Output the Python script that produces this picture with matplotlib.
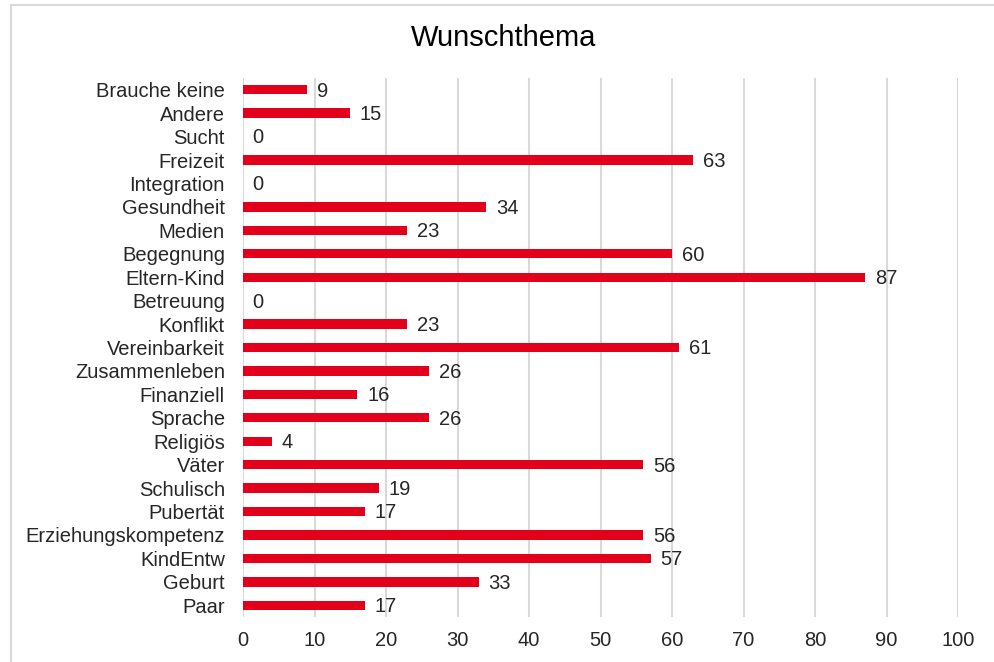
import numpy as np
import matplotlib.pyplot as plt
from matplotlib.lines import Line2D

plt.rcParams['font.family'] = ['Liberation Sans', 'DejaVu Sans']

categories = ['Brauche keine', 'Andere', 'Sucht', 'Freizeit', 'Integration',
              'Gesundheit', 'Medien', 'Begegnung', 'Eltern-Kind', 'Betreuung',
              'Konflikt', 'Vereinbarkeit', 'Zusammenleben', 'Finanziell',
              'Sprache', 'Religiös', 'Väter', 'Schulisch', 'Pubertät',
              'Erziehungskompetenz', 'KindEntw', 'Geburt', 'Paar']
values = [9, 15, 0, 63, 0, 34, 23, 60, 87, 0, 23, 61, 26, 16, 26, 4, 56, 19, 17,
          56, 57, 33, 17]
xticks = np.arange(0, 101, 10)

bar_color = '#E2001A'
grid_color = '#D9D9D9'

fig = plt.figure(figsize=(9.94, 6.62), dpi=100)
ax = fig.add_axes([243 / 994, 1 - 617 / 662, (958 - 243) / 994, (617 - 78) / 662])

y = np.arange(len(categories))[::-1]
bars = ax.barh(y, values, height=0.4, color=bar_color, zorder=3)
for b, v in zip(bars, values):
    ax.annotate(str(v), (b.get_width(), b.get_y() + b.get_height() / 2),
                xytext=(7, -1), textcoords='offset points', va='center',
                ha='left', fontsize=14.5, color='#262626')

ax.set_xlim(0, 100)
ax.set_ylim(-0.5, len(categories) - 0.5)
ax.set_xticks(xticks)
ax.set_yticks(y)
ax.set_yticklabels(categories)
ax.tick_params(axis='both', length=0, labelsize=14.5, colors='#262626')
ax.tick_params(axis='x', pad=10)
ax.tick_params(axis='y', pad=13)
ax.grid(axis='x', color=grid_color, linewidth=1.5, zorder=0)
for s in ax.spines.values():
    s.set_visible(False)

fig.text(504 / 994, 1 - 38 / 662, 'Wunschthema', ha='center',
         va='center', fontsize=21, color='#000000')

# outer frame (left and top only are visible)
fig.add_artist(Line2D([10.5 / 994, 10.5 / 994], [0, 1 - 4.5 / 662],
                      transform=fig.transFigure, color=grid_color, linewidth=1.5))
fig.add_artist(Line2D([10.5 / 994, 1], [1 - 4.5 / 662, 1 - 4.5 / 662],
                      transform=fig.transFigure, color=grid_color, linewidth=1.5))

fig.savefig('out.png', dpi=100)
